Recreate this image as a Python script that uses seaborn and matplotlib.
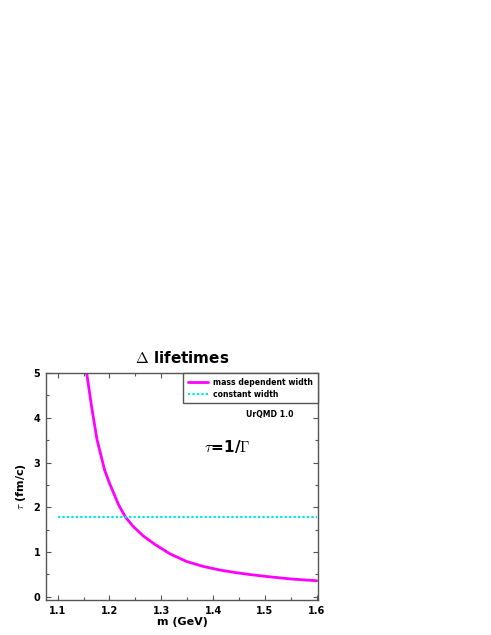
import matplotlib
matplotlib.use("Agg")
import matplotlib.pyplot as plt
import pandas as pd
import seaborn as sns
from matplotlib.ticker import MultipleLocator

# values
mass = [1.156, 1.1656, 1.1758, 1.1907, 1.2, 1.2178, 1.231, 1.246, 1.2653,
        1.288, 1.317, 1.349, 1.381, 1.413, 1.439, 1.47, 1.5035, 1.55, 1.6]
tau_mass_dep = [5.0, 4.24, 3.52, 2.83, 2.54, 2.05, 1.78, 1.57, 1.36,
                1.17, 0.96, 0.79, 0.68, 0.60, 0.55, 0.50, 0.455, 0.40, 0.36]
const_mass = [1.1, 1.6]
tau_const = [1.78, 1.78]

sns.set_theme(style="ticks", rc={"text.color": "black", "axes.labelcolor": "black",
                                 "xtick.color": "black", "ytick.color": "black"})
plt.rcParams["font.family"] = ["DejaVu Sans"]
plt.rcParams["mathtext.fontset"] = "cm"

df_dep = pd.DataFrame({"m": mass, "tau": tau_mass_dep})
df_const = pd.DataFrame({"m": const_mass, "tau": tau_const})

fig = plt.figure(figsize=(4.91, 6.35), dpi=100)
ax = fig.add_axes([0.0937, 0.0551, 0.554, 0.3575])

sns.lineplot(data=df_dep, x="m", y="tau", ax=ax, color="#ff00ff", lw=2,
             solid_joinstyle="round", label="mass dependent width")
sns.lineplot(data=df_const, x="m", y="tau", ax=ax, color="#00e5e5", lw=1.6,
             linestyle=(0, (1, 1)), label="constant width")

ax.set_xlim(1.0775, 1.6025)
ax.set_ylim(-0.07, 5)
ax.xaxis.set_major_locator(MultipleLocator(0.1))
ax.xaxis.set_minor_locator(MultipleLocator(0.05))
ax.yaxis.set_major_locator(MultipleLocator(1))
ax.yaxis.set_minor_locator(MultipleLocator(0.5))
ax.tick_params(which="both", direction="in", top=True, right=True, width=0.8)
ax.tick_params(which="both", color="#555555")
ax.tick_params(which="major", length=3.5, labelsize=7, pad=4)
ax.tick_params(which="minor", length=2)
for lab in ax.get_xticklabels() + ax.get_yticklabels():
    lab.set_fontweight("bold")
for s in ax.spines.values():
    s.set_color("#555555")
    s.set_linewidth(1)

ax.set_xlabel("m (GeV)", fontsize=8, fontweight="bold", labelpad=1)
ax.set_ylabel(r"$\tau$ (fm/c)", fontsize=8, fontweight="bold", labelpad=4)
ax.set_title(r"$\Delta$ lifetimes", fontsize=11, fontweight="bold", pad=7)

leg = ax.legend(loc="upper right", frameon=True, fancybox=False,
                borderaxespad=0, handlelength=2.6, handletextpad=0.7,
                borderpad=0.6, labelspacing=0.4, prop={"weight": "bold", "size": 5.6})
leg.get_frame().set_edgecolor("#555555")
leg.get_frame().set_linewidth(1)
leg.get_frame().set_alpha(1)

ax.text(1.51, 4.07, "UrQMD 1.0", fontsize=5.6, fontweight="bold", ha="center", va="center")
ax.text(1.427, 3.35, r"$\tau$=1/$\Gamma$", fontsize=11, fontweight="bold", ha="center", va="center")

fig.savefig("out.png", dpi=100)
